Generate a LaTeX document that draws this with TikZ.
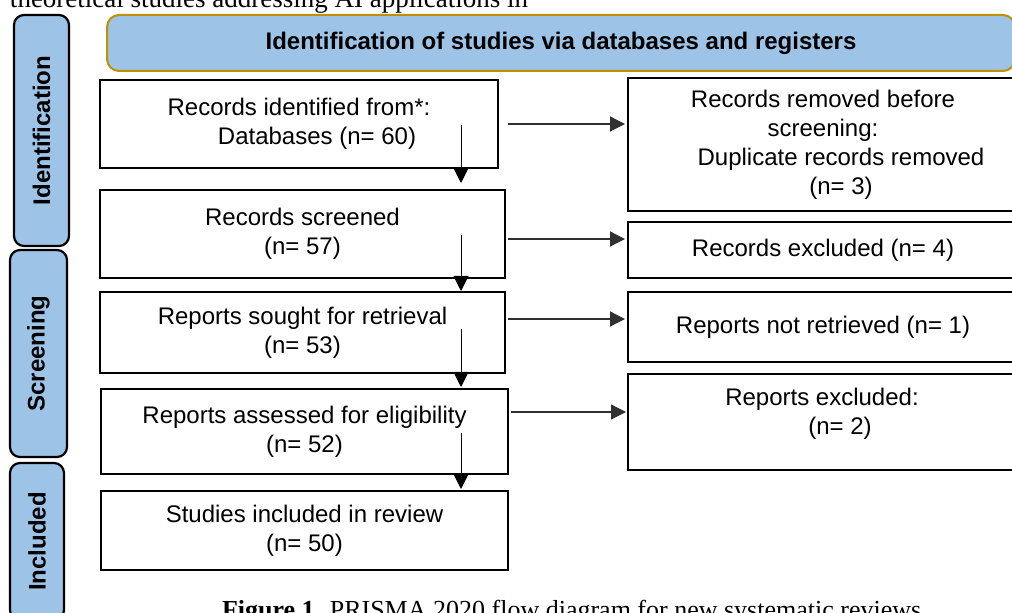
\documentclass[tikz,border=0pt]{standalone}
\usepackage{fontspec}
\setmainfont{Liberation Serif}
\setsansfont{Liberation Sans}
\usetikzlibrary{arrows.meta,calc}
\definecolor{phaseblue}{HTML}{9DC3E6}
\definecolor{headgold}{HTML}{BF9000}
\definecolor{linkgray}{HTML}{303030}

\begin{document}
\begin{tikzpicture}[x=0.5pt,y=-0.5pt,
  every node/.style={inner sep=0pt, outer sep=0pt},
  flowbox/.style 2 args={draw=black, line width=1pt,
    minimum width=#1*0.5pt, minimum height=#2*0.5pt,
    align=center, font=\sffamily\fontsize{12}{14.5}\selectfont},
  flowtext/.style={align=center, font=\sffamily\fontsize{12}{14.5}\selectfont},
  phase/.style 2 args={draw=black, line width=1.1pt, fill=phaseblue,
    rounded corners=5pt, rotate=90,
    minimum width=#1*0.5pt, minimum height=#2*0.5pt,
    font=\sffamily\bfseries\fontsize{12}{14}\selectfont},
  header/.style={draw=headgold, line width=1pt, fill=phaseblue,
    rounded corners=6pt, minimum width=908*0.5pt, minimum height=56*0.5pt,
    font=\sffamily\bfseries\fontsize{12}{14}\selectfont},
  link/.style={draw=linkgray, line width=0.6pt,
    -{Triangle[length=7.5pt,width=7.5pt]}},
]
\useasboundingbox (0,0) rectangle (1012,613);

% running text around the figure
\node[anchor=base west, font=\fontsize{13.5}{16}\selectfont] (runtext) at (10,8)
  {theoretical studies addressing AI applications in};
\node[anchor=base west, font=\fontsize{13}{16}\selectfont] (caption) at (222,619)
  {\textbf{Figure 1}. PRISMA 2020 flow diagram for new systematic reviews};

% phase bars
\node[phase={231}{55}] (pident) at (41.5,130.5) {Identification};
\node[phase={207}{57}] (pscreen) at (38.5,353.5) {Screening};
\node[phase={157}{54}] (pincl) at (37,541.5) {Included};

% header
\node[header] (head) at (561,43) {Identification of studies via databases and registers};

% main column
\node[flowbox={398}{88}] (b1) at (299,124)
  {Records identified from*:\\\hspace*{18pt}Databases (n= 60)};
\node[flowbox={405}{88}] (b2) at (302.5,234) {Records screened\\(n= 57)};
\node[flowbox={405}{81}] (b3) at (302.5,332.5) {Reports sought for retrieval\\(n= 53)};
\node[flowbox={407}{85}] (b4) at (304.5,431.5) {Reports assessed for eligibility\\(n= 52)};
\node[flowbox={407}{79}] (b5) at (304.5,530.5) {Studies included in review\\(n= 50)};

% side column
\node[flowbox={390}{133}] (r1) at (823,144.5)
  {Records removed before\\screening:\\\hspace*{18pt}Duplicate records removed\\\hspace*{18pt}(n= 3)};
\node[flowbox={390}{56}] (r2) at (823,250) {Records excluded (n= 4)};
\node[flowbox={390}{70}] (r3) at (823,327) {Reports not retrieved (n= 1)};
\node[flowbox={390}{96}] (r4) at (823,422) {};
\node[flowtext] (r4t) at (822,414) {Reports excluded:\\\hspace*{18pt}(n= 2)};

% connector start points
\coordinate (v1) at (461,125);
\coordinate (v2) at (461,235);
\coordinate (v3) at (461,329);
\coordinate (v4) at (461,433);
\coordinate (h1) at (508,124);
\coordinate (h2) at (508,239);
\coordinate (h3) at (508,319);
\coordinate (h4) at (511,412);

% downward flow
\draw[link, draw=black, line width=0.5pt, shorten >=3.5pt] (v1) -- (b2.north -| v1);
\draw[link, draw=black, line width=0.5pt, shorten >=0.5pt] (v2) -- (b3.north -| v2);
\draw[link, draw=black, line width=0.5pt, shorten >=1pt] (v3) -- (b4.north -| v3);
\draw[link, draw=black, line width=0.5pt, shorten >=1pt] (v4) -- (b5.north -| v4);

% exclusions
\draw[link, shorten >=1.5pt] (h1) -- (r1.west |- h1);
\draw[link, shorten >=1.5pt] (h2) -- (r2.west |- h2);
\draw[link, shorten >=1.5pt] (h3) -- (r3.west |- h3);
\draw[link, shorten >=1pt] (h4) -- (r4.west |- h4);
\end{tikzpicture}
\end{document}
